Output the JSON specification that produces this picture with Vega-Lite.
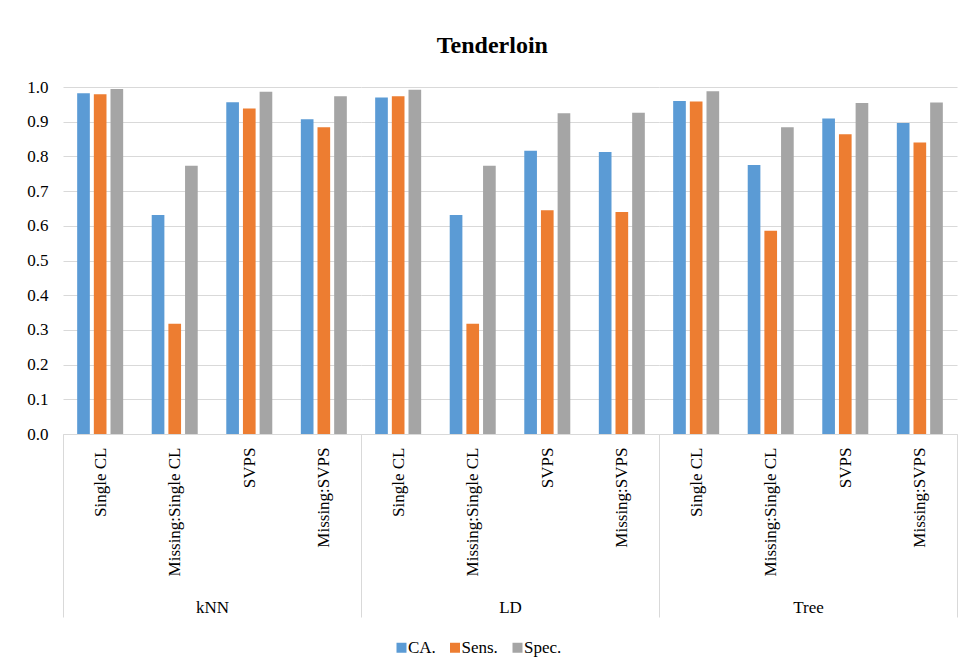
{
  "$schema": "https://vega.github.io/schema/vega-lite/v6.json",
  "padding": {"top": 34, "left": 26, "right": 5, "bottom": 5},
  "title": {"text": "Tenderloin", "font": "Liberation Serif, Times New Roman, serif", "fontSize": 24, "fontWeight": "bold", "color": "#000000", "anchor": "middle", "frame": "bounds", "offset": 20},
  "data": {"values": [
    {"Classifier": "kNN", "Method": "Single CL", "Metric": "CA.", "Value": 0.982},
    {"Classifier": "kNN", "Method": "Single CL", "Metric": "Sens.", "Value": 0.979},
    {"Classifier": "kNN", "Method": "Single CL", "Metric": "Spec.", "Value": 0.994},
    {"Classifier": "kNN", "Method": "Missing:Single CL", "Metric": "CA.", "Value": 0.631},
    {"Classifier": "kNN", "Method": "Missing:Single CL", "Metric": "Sens.", "Value": 0.318},
    {"Classifier": "kNN", "Method": "Missing:Single CL", "Metric": "Spec.", "Value": 0.773},
    {"Classifier": "kNN", "Method": "SVPS", "Metric": "CA.", "Value": 0.956},
    {"Classifier": "kNN", "Method": "SVPS", "Metric": "Sens.", "Value": 0.938},
    {"Classifier": "kNN", "Method": "SVPS", "Metric": "Spec.", "Value": 0.986},
    {"Classifier": "kNN", "Method": "Missing:SVPS", "Metric": "CA.", "Value": 0.907},
    {"Classifier": "kNN", "Method": "Missing:SVPS", "Metric": "Sens.", "Value": 0.884},
    {"Classifier": "kNN", "Method": "Missing:SVPS", "Metric": "Spec.", "Value": 0.973},
    {"Classifier": "LD", "Method": "Single CL", "Metric": "CA.", "Value": 0.970},
    {"Classifier": "LD", "Method": "Single CL", "Metric": "Sens.", "Value": 0.973},
    {"Classifier": "LD", "Method": "Single CL", "Metric": "Spec.", "Value": 0.992},
    {"Classifier": "LD", "Method": "Missing:Single CL", "Metric": "CA.", "Value": 0.631},
    {"Classifier": "LD", "Method": "Missing:Single CL", "Metric": "Sens.", "Value": 0.318},
    {"Classifier": "LD", "Method": "Missing:Single CL", "Metric": "Spec.", "Value": 0.773},
    {"Classifier": "LD", "Method": "SVPS", "Metric": "CA.", "Value": 0.816},
    {"Classifier": "LD", "Method": "SVPS", "Metric": "Sens.", "Value": 0.645},
    {"Classifier": "LD", "Method": "SVPS", "Metric": "Spec.", "Value": 0.924},
    {"Classifier": "LD", "Method": "Missing:SVPS", "Metric": "CA.", "Value": 0.813},
    {"Classifier": "LD", "Method": "Missing:SVPS", "Metric": "Sens.", "Value": 0.640},
    {"Classifier": "LD", "Method": "Missing:SVPS", "Metric": "Spec.", "Value": 0.926},
    {"Classifier": "Tree", "Method": "Single CL", "Metric": "CA.", "Value": 0.960},
    {"Classifier": "Tree", "Method": "Single CL", "Metric": "Sens.", "Value": 0.958},
    {"Classifier": "Tree", "Method": "Single CL", "Metric": "Spec.", "Value": 0.988},
    {"Classifier": "Tree", "Method": "Missing:Single CL", "Metric": "CA.", "Value": 0.775},
    {"Classifier": "Tree", "Method": "Missing:Single CL", "Metric": "Sens.", "Value": 0.586},
    {"Classifier": "Tree", "Method": "Missing:Single CL", "Metric": "Spec.", "Value": 0.884},
    {"Classifier": "Tree", "Method": "SVPS", "Metric": "CA.", "Value": 0.909},
    {"Classifier": "Tree", "Method": "SVPS", "Metric": "Sens.", "Value": 0.864},
    {"Classifier": "Tree", "Method": "SVPS", "Metric": "Spec.", "Value": 0.954},
    {"Classifier": "Tree", "Method": "Missing:SVPS", "Metric": "CA.", "Value": 0.896},
    {"Classifier": "Tree", "Method": "Missing:SVPS", "Metric": "Sens.", "Value": 0.840},
    {"Classifier": "Tree", "Method": "Missing:SVPS", "Metric": "Spec.", "Value": 0.955}
  ]},
  "spacing": 0,
  "bounds": "flush",
  "resolve": {"scale": {"y": "independent", "x": "independent", "color": "shared"}, "legend": {"color": "shared"}},
  "hconcat": [
    {
      "width": 298, "height": 347,
      "transform": [{"filter": "datum.Classifier === 'kNN'"}],
      "mark": {"type": "bar"},
      "encoding": {
        "x": {"field": "Method", "type": "nominal", "sort": ["Single CL", "Missing:Single CL", "SVPS", "Missing:SVPS"], "scale": {"paddingInner": 0.383, "paddingOuter": 0.19}, "title": "kNN",
          "axis": {"labelAngle": -90, "labelAlign": "right", "labelBaseline": "middle", "labelPadding": -170, "bandPosition": 0, "tickExtra": false, "tickOffset": -14.17, "labelOffset": 14.17, "tickSize": 183, "tickColor": {"condition": {"test": "datum.index === 0", "value": "#d9d9d9"}, "value": "transparent"}, "domainColor": "#d9d9d9", "titleY": 173, "titleBaseline": "middle", "labelFont": "Liberation Serif, Times New Roman, serif", "titleFont": "Liberation Serif, Times New Roman, serif"}},
        "xOffset": {"field": "Metric", "type": "nominal", "scale": {"domain": ["CA.", "Sens.", "Spec."], "paddingInner": 0.24, "paddingOuter": 0}},
        "y": {"field": "Value", "type": "quantitative", "scale": {"domain": [0, 1]},
          "axis": {"values": [0, 0.1, 0.2, 0.3, 0.4, 0.5, 0.6, 0.7, 0.8, 0.9, 1.0], "format": ".1f", "domain": false, "ticks": false, "labelPadding": 15, "title": null, "labelFont": "Liberation Serif, Times New Roman, serif"}},
        "color": {"field": "Metric", "type": "nominal", "scale": {"domain": ["CA.", "Sens.", "Spec."], "range": ["#5b9bd5", "#ed7d31", "#a5a5a5"]},
          "legend": {"orient": "none", "legendX": 330, "legendY": 552, "direction": "horizontal", "title": null, "symbolType": "square", "symbolSize": 100, "symbolStrokeWidth": 0, "labelOffset": -2, "columnPadding": 10.5, "labelFont": "Liberation Serif, Times New Roman, serif"}}
      }
    },
    {
      "width": 298, "height": 347,
      "transform": [{"filter": "datum.Classifier === 'LD'"}],
      "mark": {"type": "bar"},
      "encoding": {
        "x": {"field": "Method", "type": "nominal", "sort": ["Single CL", "Missing:Single CL", "SVPS", "Missing:SVPS"], "scale": {"paddingInner": 0.383, "paddingOuter": 0.19}, "title": "LD",
          "axis": {"labelAngle": -90, "labelAlign": "right", "labelBaseline": "middle", "labelPadding": -170, "bandPosition": 0, "tickExtra": false, "tickOffset": -14.17, "labelOffset": 14.17, "tickSize": 183, "tickColor": {"condition": {"test": "datum.index === 0", "value": "#d9d9d9"}, "value": "transparent"}, "domainColor": "#d9d9d9", "titleY": 173, "titleBaseline": "middle", "labelFont": "Liberation Serif, Times New Roman, serif", "titleFont": "Liberation Serif, Times New Roman, serif"}},
        "xOffset": {"field": "Metric", "type": "nominal", "scale": {"domain": ["CA.", "Sens.", "Spec."], "paddingInner": 0.24, "paddingOuter": 0}},
        "y": {"field": "Value", "type": "quantitative", "scale": {"domain": [0, 1]},
          "axis": {"values": [0, 0.1, 0.2, 0.3, 0.4, 0.5, 0.6, 0.7, 0.8, 0.9, 1.0], "labels": false, "domain": false, "ticks": false, "title": null, "minExtent": 0, "maxExtent": 0, "offset": 0}},
        "color": {"field": "Metric", "type": "nominal", "scale": {"domain": ["CA.", "Sens.", "Spec."], "range": ["#5b9bd5", "#ed7d31", "#a5a5a5"]},
          "legend": {"orient": "none", "legendX": 330, "legendY": 552, "direction": "horizontal", "title": null, "symbolType": "square", "symbolSize": 100, "symbolStrokeWidth": 0, "labelOffset": -2, "columnPadding": 10.5, "labelFont": "Liberation Serif, Times New Roman, serif"}}
      }
    },
    {
      "width": 298, "height": 347,
      "transform": [{"filter": "datum.Classifier === 'Tree'"}],
      "mark": {"type": "bar"},
      "encoding": {
        "x": {"field": "Method", "type": "nominal", "sort": ["Single CL", "Missing:Single CL", "SVPS", "Missing:SVPS"], "scale": {"paddingInner": 0.383, "paddingOuter": 0.19}, "title": "Tree",
          "axis": {"labelAngle": -90, "labelAlign": "right", "labelBaseline": "middle", "labelPadding": -170, "bandPosition": 0, "tickExtra": false, "tickOffset": -14.17, "labelOffset": 14.17, "tickSize": 183, "tickColor": {"condition": {"test": "datum.index === 0", "value": "#d9d9d9"}, "value": "transparent"}, "domainColor": "#d9d9d9", "titleY": 173, "titleBaseline": "middle", "labelFont": "Liberation Serif, Times New Roman, serif", "titleFont": "Liberation Serif, Times New Roman, serif"}},
        "xOffset": {"field": "Metric", "type": "nominal", "scale": {"domain": ["CA.", "Sens.", "Spec."], "paddingInner": 0.24, "paddingOuter": 0}},
        "y": {"field": "Value", "type": "quantitative", "scale": {"domain": [0, 1]},
          "axis": {"values": [0, 0.1, 0.2, 0.3, 0.4, 0.5, 0.6, 0.7, 0.8, 0.9, 1.0], "labels": false, "domain": false, "ticks": false, "title": null, "minExtent": 0, "maxExtent": 0, "offset": 0}},
        "color": {"field": "Metric", "type": "nominal", "scale": {"domain": ["CA.", "Sens.", "Spec."], "range": ["#5b9bd5", "#ed7d31", "#a5a5a5"]},
          "legend": {"orient": "none", "legendX": 330, "legendY": 552, "direction": "horizontal", "title": null, "symbolType": "square", "symbolSize": 100, "symbolStrokeWidth": 0, "labelOffset": -2, "columnPadding": 10.5, "labelFont": "Liberation Serif, Times New Roman, serif"}}
      }
    },
    {
      "width": 1, "height": 347,
      "transform": [{"filter": "datum.Classifier === 'Tree' && datum.Method === 'Missing:SVPS' && datum.Metric === 'CA.'"}],
      "mark": {"type": "bar", "opacity": 0},
      "encoding": {
        "x": {"field": "Method", "type": "nominal", "scale": {"paddingInner": 0, "paddingOuter": 0}, "title": null,
          "axis": {"labels": false, "domain": false, "bandPosition": 0, "tickExtra": false, "tickSize": 183, "tickColor": "#d9d9d9"}},
        "y": {"field": "Value", "type": "quantitative", "scale": {"domain": [0, 1]}, "axis": null}
      }
    }
  ],
  "config": {
    "view": {"stroke": null},
    "font": "Liberation Serif, Times New Roman, serif",
    "axis": {"labelFont": "Liberation Serif, Times New Roman, serif", "labelFontSize": 17, "labelColor": "#000000", "titleFont": "Liberation Serif, Times New Roman, serif", "titleFontSize": 17, "titleFontWeight": "normal", "titleColor": "#000000", "gridColor": "#d9d9d9", "gridWidth": 1},
    "axisX": {"grid": false},
    "legend": {"labelFont": "Liberation Serif, Times New Roman, serif", "labelFontSize": 17, "labelColor": "#000000"}
  }
}
